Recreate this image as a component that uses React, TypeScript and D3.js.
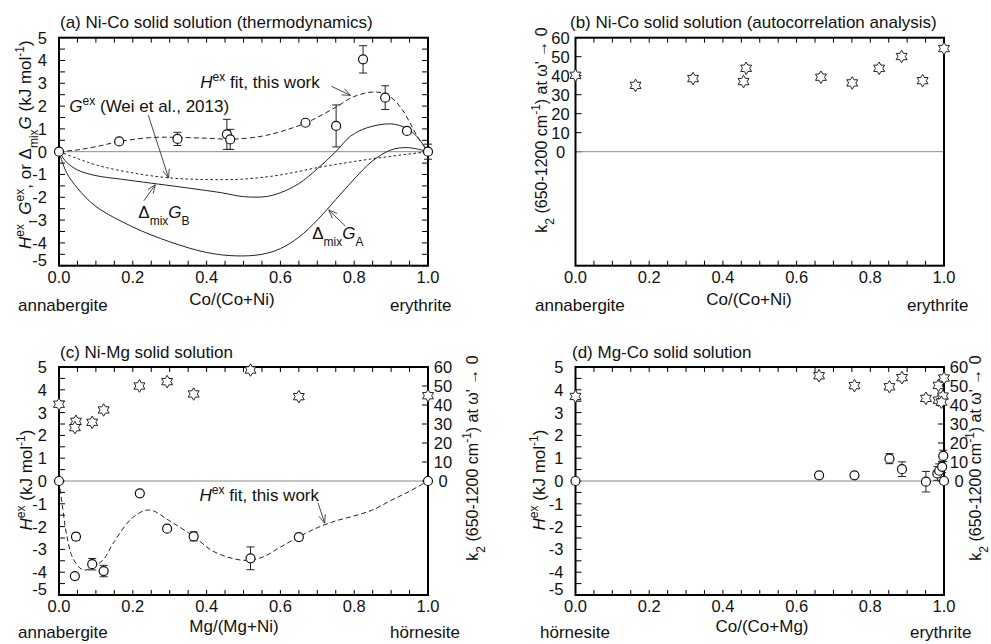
import React from 'react';
import * as d3 from 'd3';

const FONT = "'Liberation Sans', Arial, Helvetica, sans-serif";

// ---------- tick values ----------
const fracLabels = [0, 0.2, 0.4, 0.6, 0.8, 1.0];
const fracMinor = d3.range(0, 21).map((i) => i * 0.05);
const hLabels = [5, 4, 3, 2, 1, 0, -1, -2, -3, -4, -5];
const hMinor = d3.range(0, 21).map((i) => -5 + i * 0.5);
const k2Labels = [60, 50, 40, 30, 20, 10, 0];

// ---------- (a) Ni-Co thermodynamics ----------
const niCoX = [0, 0.163, 0.321, 0.455, 0.464, 0.668, 0.751, 0.824, 0.884, 0.943, 1.0];
const niCoHex = [0, 0.45, 0.56, 0.76, 0.54, 1.27, 1.13, 4.05, 2.37, 0.91, 0];
const niCoErr = [0, 0, 0.29, 0.66, 0.44, 0, 0.92, 0.6, 0.52, 0.12, 0.33];

const hexFitX = [0, 0.05, 0.1, 0.165, 0.25, 0.32, 0.4, 0.47, 0.55, 0.6, 0.67, 0.75, 0.8, 0.86, 0.9, 0.93, 0.95, 0.97, 1];
const hexFitY = [0, 0.08, 0.22, 0.45, 0.62, 0.63, 0.59, 0.55, 0.68, 0.88, 1.27, 1.95, 2.42, 2.62, 2.38, 1.85, 1.3, 0.7, 0];

const gexX = [0, 0.05, 0.1, 0.2, 0.3, 0.4, 0.5, 0.6, 0.7, 0.8, 0.9, 1];
const gexY = [0, -0.3, -0.58, -0.93, -1.15, -1.22, -1.2, -1.02, -0.7, -0.43, -0.2, 0];

const gbX = [0, 0.02, 0.05, 0.1, 0.166, 0.25, 0.33, 0.44, 0.5, 0.56, 0.6, 0.65, 0.7, 0.75, 0.79, 0.835, 0.9, 0.943, 0.97, 1];
const gbY = [0, -0.45, -0.8, -1.05, -1.2, -1.38, -1.55, -1.8, -1.97, -1.97, -1.8, -1.4, -0.75, 0, 0.68, 1.05, 1.22, 1.02, 0.66, 0];

const gaX = [0, 0.02, 0.05, 0.1, 0.2, 0.3, 0.4, 0.48, 0.55, 0.6, 0.65, 0.7, 0.75, 0.8, 0.85, 0.9, 0.94, 0.97, 1];
const gaY = [0, -0.9, -1.6, -2.4, -3.3, -3.95, -4.42, -4.57, -4.5, -4.25, -3.75, -3.0, -2.1, -1.2, -0.4, 0.08, 0.18, 0.12, 0];

// ---------- (b) Ni-Co autocorrelation ----------
const niCoK2X = [0, 0.163, 0.319, 0.456, 0.463, 0.666, 0.751, 0.824, 0.885, 0.942, 1.0];
const niCoK2 = [40.2, 34.9, 38.5, 36.9, 43.9, 39.2, 36.2, 43.9, 50.1, 37.4, 54.3];

// ---------- (c) Ni-Mg ----------
const niMgX = [0, 0.046, 0.043, 0.09, 0.121, 0.219, 0.293, 0.365, 0.519, 0.65, 1.0];
const niMgHex = [0, -2.44, -4.17, -3.65, -3.95, -0.54, -2.09, -2.43, -3.39, -2.46, 0];
const niMgErr = [0, 0.15, 0, 0.25, 0.25, 0.1, 0.1, 0.2, 0.5, 0.05, 0];
const niMgK2X = [0, 0.046, 0.043, 0.09, 0.121, 0.218, 0.293, 0.365, 0.519, 0.65, 1.0];
const niMgK2 = [40.4, 31.4, 28.1, 30.9, 37.4, 50, 52.3, 45.8, 58.4, 44.4, 44.9];
const mgFitX = [0, 0.01, 0.02, 0.038, 0.065, 0.09, 0.12, 0.15, 0.2, 0.245, 0.3, 0.365, 0.42, 0.5, 0.55, 0.6, 0.65, 0.7, 0.75, 0.8, 0.85, 0.9, 0.95, 1];
const mgFitY = [0, -1.2, -2.3, -3.4, -3.9, -3.8, -3.45, -2.65, -1.6, -1.27, -1.75, -2.43, -3.1, -3.48, -3.35, -2.9, -2.45, -2.05, -1.75, -1.53, -1.27, -0.85, -0.45, 0];

// ---------- (d) Mg-Co ----------
const mgCoX = [0, 0.661, 0.757, 0.852, 0.886, 0.951, 0.982, 0.987, 0.995, 0.998, 1.0];
const mgCoHex = [0, 0.25, 0.25, 0.98, 0.52, -0.03, 0.33, 0.45, 0.62, 1.1, 0];
const mgCoErr = [0, 0.1, 0.08, 0.22, 0.32, 0.45, 0.3, 0.3, 0.25, 0.25, 0];
const mgCoK2X = [0, 0.661, 0.757, 0.852, 0.886, 0.951, 0.985, 0.985, 0.997, 1.0, 0.993];
const mgCoK2 = [44.5, 55.4, 50.2, 49.6, 54.4, 43.5, 50.3, 42.5, 44.7, 54.2, 41.5];

// ---------- layout ----------
const LEFT_X: [number, number] = [59, 428];
const RIGHT_X: [number, number] = [575.5, 944];
const TOP_Y: [number, number] = [265.7, 37.7];
const BOT_Y: [number, number] = [595, 367];

const fmt1 = d3.format('.1f');
const smooth = d3.curveCatmullRom.alpha(0.5);

function hexagram(cx: number, cy: number, R: number) {
  const r = R / Math.sqrt(3);
  const pts: string[] = [];
  for (let i = 0; i < 12; i++) {
    const a = -Math.PI / 2 + (i * Math.PI) / 6;
    const rad = i % 2 === 0 ? R : r;
    pts.push(`${(cx + rad * Math.cos(a)).toFixed(2)},${(cy + rad * Math.sin(a)).toFixed(2)}`);
  }
  return 'M' + pts.join('L') + 'Z';
}

type Scale = d3.ScaleLinear<number, number>;

function Arrow({ x1, y1, x2, y2 }: { x1: number; y1: number; x2: number; y2: number }) {
  const ang = Math.atan2(y2 - y1, x2 - x1);
  const L = 9;
  const s = (22 * Math.PI) / 180;
  const h1 = [x2 - L * Math.cos(ang - s), y2 - L * Math.sin(ang - s)];
  const h2 = [x2 - L * Math.cos(ang + s), y2 - L * Math.sin(ang + s)];
  return (
    <g stroke="#333" strokeWidth={0.9} fill="none">
      <line x1={x1} y1={y1} x2={x2} y2={y2} />
      <polyline points={`${h1[0]},${h1[1]} ${x2},${y2} ${h2[0]},${h2[1]}`} />
    </g>
  );
}

function Frame({
  xs,
  ys,
  leftTicks,
  leftLabels,
  leftLabelX,
  leftAnchor,
  rightScale,
  rightTicks,
  rightLabels,
}: {
  xs: Scale;
  ys: Scale;
  leftTicks: number[];
  leftLabels: number[];
  leftLabelX: number;
  leftAnchor: 'end' | 'middle';
  rightScale?: Scale;
  rightTicks?: number[];
  rightLabels?: number[];
}) {
  const [x0, x1] = xs.range();
  const [yb, yt] = ys.range();
  const lowest = d3.min(ys.domain()) as number;
  return (
    <g>
      <g stroke="#000" strokeWidth={1}>
        {fracMinor.map((v, i) => (
          <g key={i}>
            <line x1={xs(v)} x2={xs(v)} y1={yb} y2={yb - 5} />
            <line x1={xs(v)} x2={xs(v)} y1={yt} y2={yt + 5} />
          </g>
        ))}
        {leftTicks.map((v, i) => (
          <line key={i} x1={x0} x2={x0 + 6} y1={ys(v)} y2={ys(v)} />
        ))}
        {rightScale &&
          rightTicks &&
          rightTicks.map((v, i) => (
            <line key={i} x1={x1} x2={x1 - 6} y1={rightScale(v)} y2={rightScale(v)} />
          ))}
      </g>
      <g fontFamily={FONT} fontSize={16.5} fill="#111">
        {leftLabels.map((v, i) => (
          <text
            key={i}
            x={leftLabelX}
            y={ys(v) - (v === lowest ? 6 : 0)}
            dy="0.36em"
            textAnchor={leftAnchor}
          >
            {String(v)}
          </text>
        ))}
        {rightScale &&
          rightLabels &&
          rightLabels.map((v, i) => (
            <text key={i} x={x1 + 15} y={rightScale(v)} dy="0.36em" textAnchor="middle">
              {String(v)}
            </text>
          ))}
        {fracLabels.map((v, i) => (
          <text key={i} x={xs(v)} y={yb + 17} textAnchor="middle">
            {fmt1(v)}
          </text>
        ))}
      </g>
      <line x1={x0} x2={x1} y1={ys(0)} y2={ys(0)} stroke="#8a8a8a" strokeWidth={1} />
      <rect x={x0} y={yt} width={x1 - x0} height={yb - yt} fill="none" stroke="#000" strokeWidth={2} />
    </g>
  );
}

function Circles({ xs, ys, X, Y, E }: { xs: Scale; ys: Scale; X: number[]; Y: number[]; E: number[] }) {
  return (
    <g>
      <g stroke="#222" strokeWidth={1}>
        {X.map((x, i) =>
          E[i] > 0 ? (
            <g key={i}>
              <line x1={xs(x)} x2={xs(x)} y1={ys(Y[i] - E[i])} y2={ys(Y[i] + E[i])} />
              <line x1={xs(x) - 4} x2={xs(x) + 4} y1={ys(Y[i] - E[i])} y2={ys(Y[i] - E[i])} />
              <line x1={xs(x) - 4} x2={xs(x) + 4} y1={ys(Y[i] + E[i])} y2={ys(Y[i] + E[i])} />
            </g>
          ) : null
        )}
      </g>
      {X.map((x, i) => (
        <circle key={i} cx={xs(x)} cy={ys(Y[i])} r={4.5} fill="#fff" stroke="#111" strokeWidth={1.2} />
      ))}
    </g>
  );
}

function Stars({ xs, ys, X, Y }: { xs: Scale; ys: Scale; X: number[]; Y: number[] }) {
  return (
    <g fill="#fff" stroke="#222" strokeWidth={1}>
      {X.map((x, i) => (
        <path key={i} d={hexagram(xs(x), ys(Y[i]), 6.3)} />
      ))}
    </g>
  );
}

const Sup = ({ children }: { children: React.ReactNode }) => (
  <tspan fontSize={12} baselineShift="super">
    {children}
  </tspan>
);
const Sub = ({ children }: { children: React.ReactNode }) => (
  <tspan fontSize={12} baselineShift="sub">
    {children}
  </tspan>
);

function HexLabel() {
  return (
    <>
      <tspan fontStyle="italic">H</tspan>
      <Sup>ex</Sup>
      <tspan> (kJ mol</tspan>
      <Sup>-1</Sup>
      <tspan>)</tspan>
    </>
  );
}

function K2Label() {
  return (
    <>
      <tspan>k</tspan>
      <Sub>2</Sub>
      <tspan> (650-1200 cm</tspan>
      <Sup>-1</Sup>
      <tspan>) at ω' → 0</tspan>
    </>
  );
}

export default function App() {
  const xa = d3.scaleLinear().domain([0, 1]).range(LEFT_X);
  const ya = d3.scaleLinear().domain([-5, 5]).range(TOP_Y);
  const xb = d3.scaleLinear().domain([0, 1]).range(RIGHT_X);
  const yb = d3.scaleLinear().domain([-60, 60]).range(TOP_Y);
  const xc = d3.scaleLinear().domain([0, 1]).range(LEFT_X);
  const yc = d3.scaleLinear().domain([-5, 5]).range(BOT_Y);
  const kc = d3.scaleLinear().domain([-60, 60]).range(BOT_Y);
  const xd = d3.scaleLinear().domain([0, 1]).range(RIGHT_X);
  const yd = d3.scaleLinear().domain([-5, 5]).range(BOT_Y);
  const kd = d3.scaleLinear().domain([-60, 60]).range(BOT_Y);

  const path = (xs: Scale, ys: Scale, X: number[], Y: number[]) =>
    d3
      .line<number>()
      .x((d) => xs(d))
      .y((_, i) => ys(Y[i]))
      .curve(smooth)(X) as string;

  const tf = { fontFamily: FONT, fontSize: 17, fill: '#111' };

  return (
    <svg
      width={991}
      height={644}
      style={{ position: 'absolute', left: 0, top: 0, background: '#fff' }}
    >
      <rect width={991} height={644} fill="#fff" />

      {/* ---------------- (a) ---------------- */}
      <text x={60} y={28} {...tf}>
        (a) Ni-Co solid solution (thermodynamics)
      </text>
      <Frame
        xs={xa}
        ys={ya}
        leftTicks={hMinor}
        leftLabels={hLabels}
        leftLabelX={47}
        leftAnchor="end"
        rightScale={ya}
        rightTicks={hMinor}
        rightLabels={[]}
      />
      <g fill="none" stroke="#222" strokeWidth={1}>
        <path d={path(xa, ya, gaX, gaY)} />
        <path d={path(xa, ya, gbX, gbY)} />
        <path d={path(xa, ya, gexX, gexY)} strokeDasharray="2.5,2.5" />
        <path d={path(xa, ya, hexFitX, hexFitY)} strokeDasharray="5,3" />
      </g>
      <Circles xs={xa} ys={ya} X={niCoX} Y={niCoHex} E={niCoErr} />
      <text x={xa(0.383)} y={ya(2.8)} {...tf}>
        <tspan fontStyle="italic">H</tspan>
        <Sup>ex</Sup>
        <tspan> fit, this work</tspan>
      </text>
      <Arrow x1={xa(0.738)} y1={ya(2.87)} x2={xa(0.79)} y2={ya(2.47)} />
      <text x={xa(0.028)} y={ya(1.75)} {...tf}>
        <tspan fontStyle="italic">G</tspan>
        <Sup>ex</Sup>
        <tspan> (Wei et al., 2013)</tspan>
      </text>
      <Arrow x1={xa(0.242)} y1={ya(1.6)} x2={xa(0.297)} y2={ya(-1.15)} />
      <text x={xa(0.215)} y={ya(-2.91)} {...tf}>
        <tspan>Δ</tspan>
        <Sub>mix</Sub>
        <tspan fontStyle="italic">G</tspan>
        <Sub>B</Sub>
      </text>
      <Arrow x1={xa(0.23)} y1={ya(-2.15)} x2={xa(0.261)} y2={ya(-1.45)} />
      <text x={xa(0.686)} y={ya(-3.81)} {...tf}>
        <tspan>Δ</tspan>
        <Sub>mix</Sub>
        <tspan fontStyle="italic">G</tspan>
        <Sub>A</Sub>
      </text>
      <Arrow x1={xa(0.776)} y1={ya(-3.26)} x2={xa(0.731)} y2={ya(-2.56)} />
      <text transform={`translate(31,${ya(0) - 7}) rotate(-90)`} textAnchor="middle" {...tf}>
        <tspan fontStyle="italic">H</tspan>
        <Sup>ex</Sup>
        <tspan>, </tspan>
        <tspan fontStyle="italic">G</tspan>
        <Sup>ex</Sup>
        <tspan>, or Δ</tspan>
        <Sub>mix</Sub>
        <tspan fontStyle="italic">G</tspan>
        <tspan> (kJ mol</tspan>
        <Sup>-1</Sup>
        <tspan>)</tspan>
      </text>
      <text x={18} y={311} {...tf}>annabergite</text>
      <text x={232} y={305} textAnchor="middle" {...tf}>Co/(Co+Ni)</text>
      <text x={390} y={311} {...tf}>erythrite</text>

      {/* ---------------- (b) ---------------- */}
      <text x={570} y={28} {...tf}>
        (b) Ni-Co solid solution (autocorrelation analysis)
      </text>
      <Frame
        xs={xb}
        ys={yb}
        leftTicks={k2Labels}
        leftLabels={k2Labels}
        leftLabelX={560.5}
        leftAnchor="middle"
      />
      <Stars xs={xb} ys={yb} X={niCoK2X} Y={niCoK2} />
      <text transform={`translate(547,130) rotate(-90)`} textAnchor="middle" {...tf} fontSize={16}>
        <K2Label />
      </text>
      <text x={535} y={311} {...tf}>annabergite</text>
      <text x={749} y={305} textAnchor="middle" {...tf}>Co/(Co+Ni)</text>
      <text x={907} y={311} {...tf}>erythrite</text>

      {/* ---------------- (c) ---------------- */}
      <text x={60} y={358} {...tf}>
        (c) Ni-Mg solid solution
      </text>
      <Frame
        xs={xc}
        ys={yc}
        leftTicks={hMinor}
        leftLabels={hLabels}
        leftLabelX={47}
        leftAnchor="end"
        rightScale={kc}
        rightTicks={k2Labels}
        rightLabels={k2Labels}
      />
      <path d={path(xc, yc, mgFitX, mgFitY)} fill="none" stroke="#222" strokeWidth={1} strokeDasharray="5,3" />
      <Circles xs={xc} ys={yc} X={niMgX} Y={niMgHex} E={niMgErr} />
      <Stars xs={xc} ys={kc} X={niMgK2X} Y={niMgK2} />
      <text x={xc(0.381)} y={yc(-0.88)} {...tf}>
        <tspan fontStyle="italic">H</tspan>
        <Sup>ex</Sup>
        <tspan> fit, this work</tspan>
      </text>
      <Arrow x1={xc(0.702)} y1={yc(-0.96)} x2={xc(0.72)} y2={yc(-1.85)} />
      <text transform={`translate(32,480) rotate(-90)`} textAnchor="middle" {...tf}>
        <HexLabel />
      </text>
      <text transform={`translate(478,458) rotate(-90)`} textAnchor="middle" {...tf} fontSize={16}>
        <K2Label />
      </text>
      <text x={18} y={638} {...tf}>annabergite</text>
      <text x={234} y={632} textAnchor="middle" {...tf}>Mg/(Mg+Ni)</text>
      <text x={390} y={638} {...tf}>hörnesite</text>

      {/* ---------------- (d) ---------------- */}
      <text x={572} y={358} {...tf}>
        (d) Mg-Co solid solution
      </text>
      <Frame
        xs={xd}
        ys={yd}
        leftTicks={hMinor}
        leftLabels={hLabels}
        leftLabelX={563.5}
        leftAnchor="end"
        rightScale={kd}
        rightTicks={k2Labels}
        rightLabels={k2Labels}
      />
      <Circles xs={xd} ys={yd} X={mgCoX} Y={mgCoHex} E={mgCoErr} />
      <Stars xs={xd} ys={kd} X={mgCoK2X} Y={mgCoK2} />
      <text transform={`translate(545,480) rotate(-90)`} textAnchor="middle" {...tf}>
        <HexLabel />
      </text>
      <text transform={`translate(981,458) rotate(-90)`} textAnchor="middle" {...tf} fontSize={16}>
        <K2Label />
      </text>
      <text x={540} y={638} {...tf}>hörnesite</text>
      <text x={762} y={632} textAnchor="middle" {...tf}>Co/(Co+Mg)</text>
      <text x={910} y={638} {...tf}>erythrite</text>
    </svg>
  );
}
